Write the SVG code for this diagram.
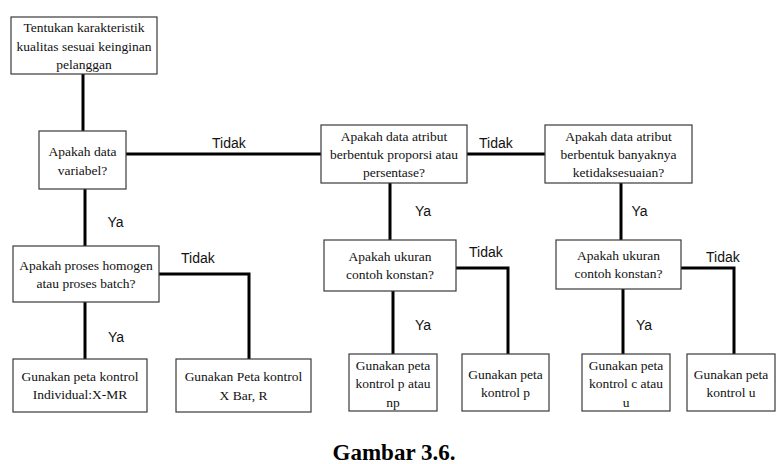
<svg xmlns="http://www.w3.org/2000/svg" width="780" height="464" viewBox="0 0 780 464">
<style>
.box{fill:#fff;stroke:#3a3a3a;stroke-width:1.2}
.t{font-family:"Liberation Serif","Times New Roman",serif;font-size:13.5px;fill:#111;text-anchor:middle}
.l{font-family:"Liberation Sans",Arial,sans-serif;font-size:14px;fill:#111}
.c{fill:none;stroke:#000;stroke-width:3}
.cap{font-family:"Liberation Serif","Times New Roman",serif;font-size:23px;font-weight:bold;fill:#000;text-anchor:middle}
</style>
<rect width="780" height="464" fill="#fff"/>
<g id="connectors">
<path class="c" d="M83 74V131"/>
<path class="c" d="M126 154H321"/>
<path class="c" d="M467 154H545"/>
<path class="c" d="M390 183V240"/>
<path class="c" d="M621 183V240"/>
<path class="c" d="M85 189V246"/>
<path class="c" d="M159 274H249V359"/>
<path class="c" d="M85 302V359"/>
<path class="c" d="M456 268H508V354"/>
<path class="c" d="M393 291V354"/>
<path class="c" d="M681 268H734V354"/>
<path class="c" d="M623 289V354"/>
</g>
<g id="labels">
<text class="l" x="212" y="148">Tidak</text>
<text class="l" x="479" y="148">Tidak</text>
<text class="l" x="107.5" y="227">Ya</text>
<text class="l" x="415" y="216">Ya</text>
<text class="l" x="631.5" y="216">Ya</text>
<text class="l" x="181" y="263">Tidak</text>
<text class="l" x="108" y="342">Ya</text>
<text class="l" x="469" y="256.5">Tidak</text>
<text class="l" x="706" y="262">Tidak</text>
<text class="l" x="415" y="330">Ya</text>
<text class="l" x="636" y="330">Ya</text>
</g>
<g id="n1">
<rect class="box" x="11" y="17" width="146" height="57"/>
<text class="t" x="84" y="32">Tentukan karakteristik</text>
<text class="t" x="84" y="50.5">kualitas sesuai keinginan</text>
<text class="t" x="84" y="69">pelanggan</text>
</g>
<g id="n2">
<rect class="box" x="39" y="131" width="87" height="58"/>
<text class="t" x="82.5" y="156">Apakah data</text>
<text class="t" x="82.5" y="174.5">variabel?</text>
</g>
<g id="n3">
<rect class="box" x="321" y="125" width="146" height="58"/>
<text class="t" x="394" y="140.5">Apakah data atribut</text>
<text class="t" x="394" y="159">berbentuk proporsi atau</text>
<text class="t" x="394" y="177">persentase?</text>
</g>
<g id="n4">
<rect class="box" x="545" y="125" width="147" height="58"/>
<text class="t" x="618.5" y="140.5">Apakah data atribut</text>
<text class="t" x="618.5" y="159">berbentuk banyaknya</text>
<text class="t" x="618.5" y="177">ketidaksesuaian?</text>
</g>
<g id="n5">
<rect class="box" x="324" y="240" width="132" height="51"/>
<text class="t" x="390" y="260.5">Apakah ukuran</text>
<text class="t" x="390" y="278.5">contoh konstan?</text>
</g>
<g id="n6">
<rect class="box" x="556" y="240" width="125" height="49"/>
<text class="t" x="618.5" y="259.5">Apakah ukuran</text>
<text class="t" x="618.5" y="277.5">contoh konstan?</text>
</g>
<g id="n7">
<rect class="box" x="13" y="246" width="146" height="56"/>
<text class="t" x="86" y="269.5">Apakah proses homogen</text>
<text class="t" x="86" y="288">atau proses batch?</text>
</g>
<g id="n8">
<rect class="box" x="13" y="359" width="134" height="53"/>
<text class="t" x="80" y="380.5">Gunakan peta kontrol</text>
<text class="t" x="80" y="399">Individual:X-MR</text>
</g>
<g id="n9">
<rect class="box" x="176" y="359" width="135" height="53"/>
<text class="t" x="243.5" y="381">Gunakan Peta kontrol</text>
<text class="t" x="243.5" y="399.5">X Bar, R</text>
</g>
<g id="n10">
<rect class="box" x="349" y="354" width="88" height="57"/>
<text class="t" x="393" y="369.5">Gunakan peta</text>
<text class="t" x="393" y="388">kontrol p atau</text>
<text class="t" x="393" y="406.5">np</text>
</g>
<g id="n11">
<rect class="box" x="462" y="354" width="87" height="57"/>
<text class="t" x="505.5" y="378.5">Gunakan peta</text>
<text class="t" x="505.5" y="397">kontrol p</text>
</g>
<g id="n12">
<rect class="box" x="582" y="354" width="88" height="57"/>
<text class="t" x="626" y="369.5">Gunakan peta</text>
<text class="t" x="626" y="388">kontrol c atau</text>
<text class="t" x="626" y="406.5">u</text>
</g>
<g id="n13">
<rect class="box" x="687" y="354" width="88" height="57"/>
<text class="t" x="731" y="378.5">Gunakan peta</text>
<text class="t" x="731" y="397">kontrol u</text>
</g>
<text class="cap" x="394" y="460">Gambar 3.6.</text>
</svg>
